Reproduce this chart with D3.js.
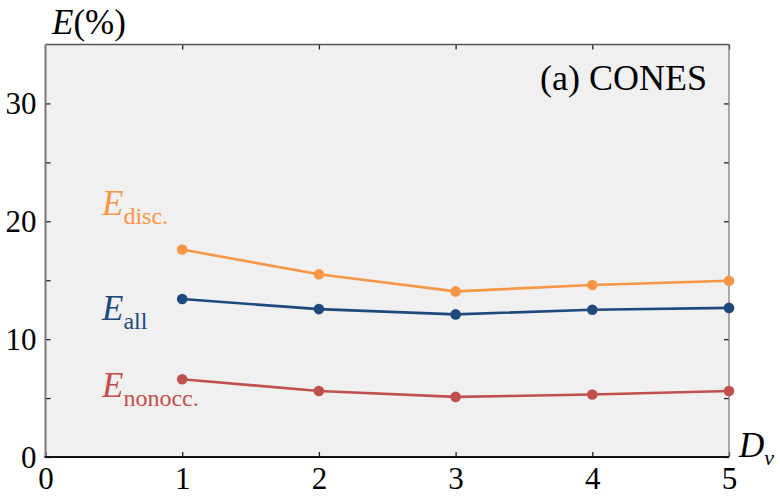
<!DOCTYPE html>
<html>
<head>
<meta charset="utf-8">
<script src="https://cdn.jsdelivr.net/npm/d3@7"></script>
<style>
  body { margin: 0; background: #fff; }
  svg, svg text { font-family: "Liberation Serif", "Times New Roman", Times, Tinos, "Nimbus Roman", "DejaVu Serif", "Noto Serif", serif; }
</style>
</head>
<body>
<div id="chart"></div>
<script>
// data
const dv = [1, 2, 3, 4, 5];
const eDisc = [17.6, 15.5, 14.05, 14.6, 14.95];
const eAll = [13.4, 12.55, 12.1, 12.5, 12.65];
const eNonocc = [6.6, 5.6, 5.1, 5.3, 5.6];
const xTicks = [0, 1, 2, 3, 4, 5];
const yTicks = [0, 10, 20, 30];
const yMinor = [5, 15, 25];

const series = [
  { name: "disc.", values: eDisc, color: "#f79646", labelY: 20.5 },
  { name: "all", values: eAll, color: "#1f497d", labelY: 11.6 },
  { name: "nonocc.", values: eNonocc, color: "#c0504d", labelY: 5.1 }
];

const serif = "'Liberation Serif', 'Times New Roman', Times, Tinos, 'Nimbus Roman', 'DejaVu Serif', serif";
const width = 780, height = 496;
const margin = { top: 44.5, right: 51, bottom: 39, left: 45.5 };

let svg = d3.select("#chart").append("svg")
    .attr("width", width)
    .attr("height", height)
    .attr("font-family", serif);

let x = d3.scaleLinear()
    .domain([0, 5])
    .range([margin.left, width - margin.right]);
let y = d3.scaleLinear()
    .domain([0, 35])
    .range([height - margin.bottom, margin.top]);

// plot background
svg.append("rect")
    .attr("x", x(0))
    .attr("y", y(35))
    .attr("width", x(5) - x(0))
    .attr("height", y(0) - y(35))
    .attr("fill", "#f0f0f0");

// frame ticks (inward)
let tickStyle = g => {
    g.attr("font-family", serif);
    g.selectAll(".domain").remove();
    g.selectAll(".tick line").attr("stroke", "#222").attr("stroke-width", 1.3);
    g.selectAll("text").attr("font-size", 31).attr("fill", "#000");
};

svg.append("g")
    .attr("transform", `translate(0,${y(0)})`)
    .call(d3.axisBottom(x).tickValues(xTicks).tickSize(-5).tickPadding(10).tickFormat(d3.format("d")))
    .call(tickStyle)
    .call(g => g.selectAll("text").attr("dy", "0.72em"));

svg.append("g")
    .attr("transform", `translate(0,${y(35)})`)
    .call(d3.axisTop(x).tickValues(dv).tickSize(-5).tickFormat(""))
    .call(tickStyle);

svg.append("g")
    .attr("transform", `translate(${x(0)},0)`)
    .call(d3.axisLeft(y).tickValues(yTicks.concat(yMinor)).tickSize(-5).tickPadding(9)
        .tickFormat(d => yTicks.includes(d) ? d : ""))
    .call(tickStyle)
    .call(g => g.selectAll("text").attr("dy", "0.34em"));

svg.append("g")
    .attr("transform", `translate(${x(5)},0)`)
    .call(d3.axisRight(y).tickValues(yTicks.concat(yMinor)).tickSize(-5).tickFormat(""))
    .call(tickStyle);

// frame lines
svg.append("line").attr("x1", x(0)).attr("x2", x(5)).attr("y1", y(35)).attr("y2", y(35))
    .attr("stroke", "#555").attr("stroke-width", 1.5);
svg.append("line").attr("x1", x(5)).attr("x2", x(5)).attr("y1", y(35)).attr("y2", y(0))
    .attr("stroke", "#777").attr("stroke-width", 1.2);
svg.append("line").attr("x1", x(0)).attr("x2", x(0)).attr("y1", y(35)).attr("y2", y(0))
    .attr("stroke", "#777").attr("stroke-width", 2);
svg.append("line").attr("x1", x(0) - 1).attr("x2", x(5)).attr("y1", y(0)).attr("y2", y(0))
    .attr("stroke", "#111").attr("stroke-width", 2);

// lines and points
let line = d3.line()
    .x((d, i) => x(dv[i]))
    .y(d => y(d));

series.forEach(s => {
    svg.append("path")
        .datum(s.values)
        .attr("d", line)
        .attr("fill", "none")
        .attr("stroke", s.color)
        .attr("stroke-width", 2.6);
    svg.append("g").selectAll("circle")
        .data(s.values)
        .join("circle")
        .attr("cx", (d, i) => x(dv[i]))
        .attr("cy", d => y(d))
        .attr("r", 5.3)
        .attr("fill", s.color);

    let t = svg.append("text")
        .attr("x", 102)
        .attr("y", y(s.labelY))
        .attr("fill", s.color)
        .attr("font-size", 35);
    t.append("tspan").attr("font-style", "italic").text("E");
    t.append("tspan").attr("font-size", 24).attr("dy", 9).text(s.name);
});

// axis titles
let yt = svg.append("text")
    .attr("x", 52)
    .attr("y", 34)
    .attr("font-size", 35);
yt.append("tspan").attr("font-style", "italic").text("E");
yt.append("tspan").text("(%)");

let xt = svg.append("text")
    .attr("x", 739)
    .attr("y", 457)
    .attr("font-size", 35);
xt.append("tspan").attr("font-style", "italic").text("D");
xt.append("tspan").attr("font-style", "italic").attr("font-size", 22).attr("dy", 8).text("v");

svg.append("text")
    .attr("x", 707)
    .attr("y", 90)
    .attr("text-anchor", "end")
    .attr("font-size", 36)
    .text("(a) CONES");
</script>
</body>
</html>
